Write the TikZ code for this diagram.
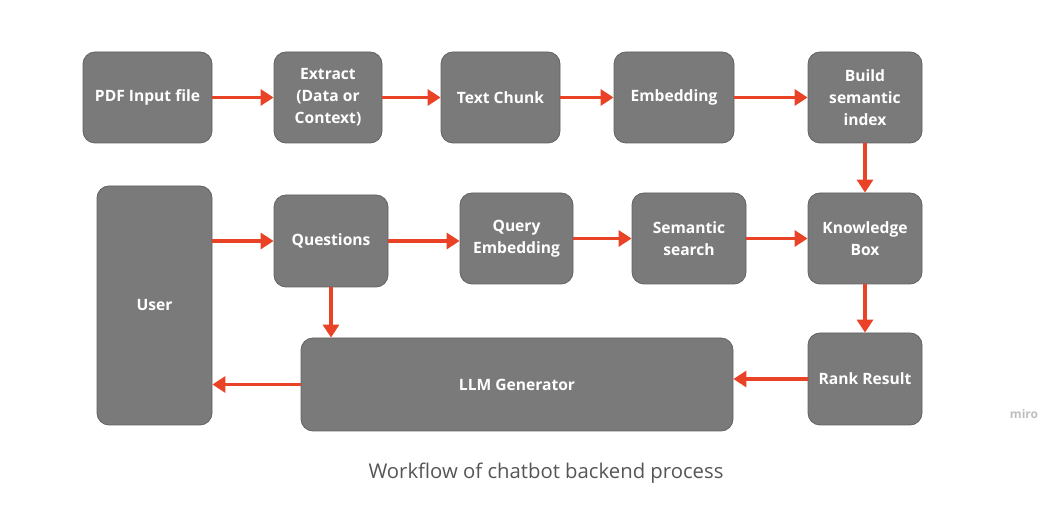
\documentclass[tikz,border=0pt]{standalone}
\usepackage{fontspec}
\setmainfont{Open Sans}
\usetikzlibrary{arrows.meta}
\definecolor{boxgray}{RGB}{122,122,122}
\definecolor{boxedge}{RGB}{98,98,98}
\definecolor{arrred}{RGB}{233,66,38}
\definecolor{captgray}{RGB}{85,85,85}
\definecolor{mirogray}{RGB}{190,190,190}
\begin{document}
\begin{tikzpicture}[x=1pt,y=-1pt,
  box/.style={draw=boxedge, line width=0.8pt, fill=boxgray, rounded corners=12pt,
    text=white, font=\fontsize{15.6}{22}\selectfont\bfseries, align=center, inner sep=0pt},
  arr/.style={draw=arrred, line width=3.4pt, -{Triangle[length=13pt,width=16pt]}},
]
\useasboundingbox (0,0) rectangle (1042,510);
% top row
\node[box, minimum width=129pt, minimum height=91pt] (pdf) at (147.5,97.5) {PDF Input file};
\node[box, minimum width=108pt, minimum height=91pt] (extract) at (328,97.5) {Extract\\(Data or\\Context)};
\node[box, minimum width=119pt, minimum height=91pt] (chunk) at (500.5,97.5) {Text Chunk};
\node[box, minimum width=120pt, minimum height=91pt] (embed) at (674,97.5) {Embedding};
\node[box, minimum width=114pt, minimum height=91pt] (build) at (865,97.5) {Build\\semantic\\index};
% middle row
\node[box, minimum width=115pt, minimum height=239pt] (user) at (154.5,305.5) {User};
\node[box, minimum width=114pt, minimum height=92pt] (quest) at (331,241) {Questions};
\node[box, minimum width=113pt, minimum height=91pt] (query) at (516.5,238.5) {Query\\Embedding};
\node[box, minimum width=114pt, minimum height=91pt] (search) at (689,238.5) {Semantic\\search};
\node[box, minimum width=114pt, minimum height=91pt] (know) at (865,238.5) {Knowledge\\Box};
% bottom row
\node[box, minimum width=432pt, minimum height=93pt] (llm) at (517,384.5) {LLM Generator};
\node[box, minimum width=114pt, minimum height=92pt] (rank) at (865,379) {Rank Result};
% arrows
\draw[arr] (pdf.east) -- (extract.west);
\draw[arr] (extract.east) -- (chunk.west);
\draw[arr] (chunk.east) -- (embed.west);
\draw[arr] (embed.east) -- (build.west);
\draw[arr] (build.south) -- (know.north);
\draw[arr] (quest.west -| user.east) -- (quest.west);
\draw[arr] (quest.east) -- (quest.east -| query.west);
\draw[arr] (query.east) -- (search.west);
\draw[arr] (search.east) -- (know.west);
\draw[arr] (know.south) -- (rank.north);
\draw[arr] (rank.west) -- (rank.west -| llm.east);
\draw[arr] (quest.south) -- (quest.south |- llm.north);
\draw[arr] (llm.west) -- (llm.west -| user.east);
% watermark and caption
\node[text=mirogray, font=\fontsize{12}{14}\selectfont\bfseries] (miro) at (1024,414) {miro};
\node[text=captgray, font=\fontsize{20.3}{24}\selectfont] (caption) at (546,473) {Workflow of chatbot backend process};
\end{tikzpicture}
\end{document}
